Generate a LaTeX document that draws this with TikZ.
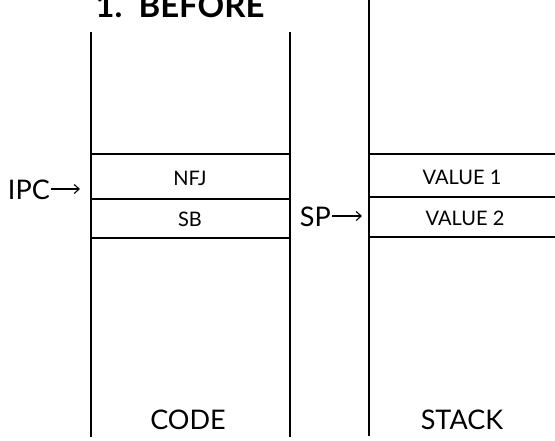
\documentclass[tikz,border=0pt]{standalone}
\usepackage{fontspec}
\setmainfont{Lato}
\usetikzlibrary{arrows.meta}
\begin{document}
\begin{tikzpicture}[x=1pt,y=-1pt,
  col/.style={line width=1.3pt},
  sep/.style={line width=1.9pt},
  ptr/.style={line width=1.1pt, -{Straight Barb[length=5pt,width=9pt]}},
  cell/.style={font=\fontsize{20}{22}\selectfont, inner sep=0pt},
  lbl/.style={font=\fontsize{27}{30}\selectfont, inner sep=0pt},
  ttl/.style={font=\bfseries\fontsize{33}{36}\selectfont, inner sep=0pt}]
\useasboundingbox (0,0) rectangle (555,440);
% columns
\coordinate (cLt) at (91,32);  \coordinate (cLb) at (91,437);
\coordinate (cRt) at (290,32); \coordinate (cRb) at (290,437);
\coordinate (sLt) at (369,0);  \coordinate (sLb) at (369,436);
\draw[col] (cLt) -- (cLb);
\draw[col] (cRt) -- (cRb);
\draw[col] (sLt) -- (sLb);
% code separators
\coordinate (c1l) at (91,154); \coordinate (c1r) at (290,154);
\coordinate (c2l) at (91,199); \coordinate (c2r) at (290,199);
\coordinate (c3l) at (91,238); \coordinate (c3r) at (290,238);
\draw[sep] (c1l) -- (c1r);
\draw[sep] (c2l) -- (c2r);
\draw[sep] (c3l) -- (c3r);
% stack separators
\coordinate (s1l) at (369,154); \coordinate (s1r) at (555,154);
\coordinate (s2l) at (369,197); \coordinate (s2r) at (555,197);
\coordinate (s3l) at (369,237); \coordinate (s3r) at (555,237);
\draw[sep] (s1l) -- (s1r);
\draw[sep] (s2l) -- (s2r);
\draw[sep] (s3l) -- (s3r);
% texts
\node[ttl, anchor=base] (title) at (180,17) {1.\ \ BEFORE};
\node[cell] (nfj) at (190,178) {NFJ};
\node[cell] (sb) at (190,219) {SB};
\node[cell] (v1) at (462,177) {VALUE 1};
\node[cell] (v2) at (465,218) {VALUE 2};
\node[lbl, anchor=east] (ipc) at (50,190) {IPC};
\node[lbl, anchor=east] (sp) at (331,217) {SP};
% pointers
\coordinate (ipcTip) at (80,189);
\coordinate (spTip) at (362,216);
\draw[ptr] (ipc.east |- ipcTip) ++(1,0) -- (ipcTip);
\draw[ptr] (sp.east |- spTip) ++(1,0) -- (spTip);
\node[lbl] (code) at (188,420) {CODE};
\node[lbl] (stack) at (462,420) {STACK};
\end{tikzpicture}
\end{document}
